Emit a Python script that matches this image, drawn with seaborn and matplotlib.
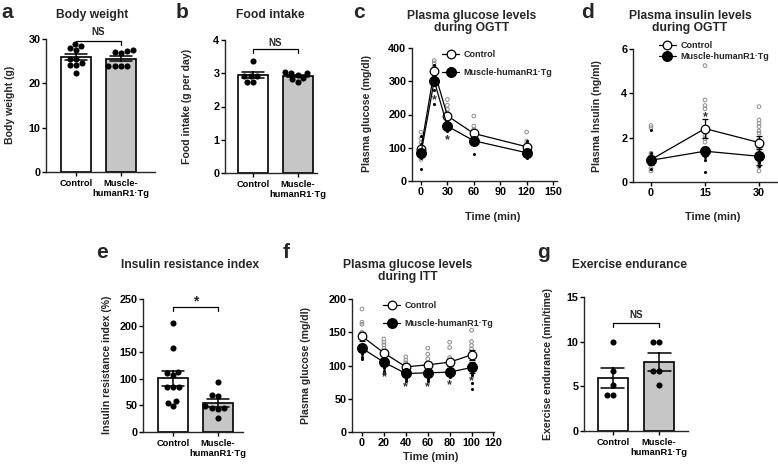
import numpy as np
import pandas as pd
import matplotlib
matplotlib.use("Agg")
import matplotlib.pyplot as plt
import seaborn as sns
from matplotlib.lines import Line2D

# ---------------- data ----------------
groups = ["Control", "Muscle-humanR1·Tg"]
bar_ticklabels = ["Control", "Muscle-\nhumanR1·Tg"]

# a: body weight (g)
bw_ctrl = [28.4, 28.9, 27.9, 27.5, 25.6, 25.6, 24.5, 24.1, 24.1, 22.3]
bw_tg = [27.5, 27.1, 27.4, 26.8, 24.0, 24.0, 24.0, 24.0]
# b: food intake (g per day)
fi_ctrl = [3.38, 2.92, 2.92, 2.92, 2.75, 2.75]
fi_tg = [3.0, 3.05, 3.0, 2.95, 2.82, 2.75, 2.85]
# e: insulin resistance index (%)
iri_ctrl = [205, 157, 113, 110, 107, 85, 85, 84, 58, 55, 48]
iri_tg = [94, 70, 68, 45, 46, 44, 26, 48]
# g: exercise endurance (min/time)
ex_ctrl = [10.0, 6.7, 5.1, 4.0, 4.0]
ex_tg = [10.0, 10.0, 6.7, 6.7, 5.1]

# c: plasma glucose during OGTT
ogtt_time = [0, 15, 30, 60, 120]
ogtt_ctrl_mean = [97, 331, 196, 143, 103]
ogtt_ctrl_sem = [8, 10, 9, 8, 6]
ogtt_tg_mean = [83, 301, 165, 121, 85]
ogtt_tg_sem = [9, 12, 10, 8, 6]
ogtt_ctrl_pts = [[147, 128, 115, 100, 90, 75, 65],
                 [362, 355, 345, 335, 320, 310],
                 [245, 228, 215, 205, 195],
                 [195, 165, 155, 145, 130],
                 [147, 120, 110, 100, 95]]
ogtt_tg_pts = [[135, 110, 95, 85, 75, 70, 37],
               [350, 320, 295, 275, 232],
               [185, 170, 160, 150],
               [130, 118, 110, 82],
               [120, 100, 90, 80, 70]]
ogtt_star_time = [15, 30]
ogtt_star_y = [249, 128]

# d: plasma insulin during OGTT
ins_time = [0, 15, 30]
ins_ctrl_mean = [1.01, 2.41, 1.78]
ins_ctrl_sem = [0.15, 0.42, 0.28]
ins_tg_mean = [0.98, 1.39, 1.16]
ins_tg_sem = [0.2, 0.2, 0.4]
ins_ctrl_pts = [[2.55, 2.45, 1.3, 1.2, 1.1, 0.9, 0.8, 0.6, 0.5],
                [5.25, 3.7, 3.45, 3.3, 2.1, 1.95, 1.8, 1.5, 1.3, 1.2],
                [3.4, 2.8, 2.65, 2.5, 2.3, 2.2, 1.9, 1.5, 1.2, 0.9, 0.7, 0.5]]
ins_tg_pts = [[2.35, 1.3, 1.0, 0.9, 0.8, 0.6],
              [1.4, 1.3, 1.15, 1.0, 0.45],
              [1.2, 1.1, 0.95, 0.85, 0.7]]
ins_star_time = [15]
ins_star_y = [3.0]

# f: plasma glucose during ITT
itt_time = [0, 20, 40, 60, 80, 100]
itt_ctrl_mean = [144, 119, 98, 101, 105, 116]
itt_ctrl_sem = [7, 5, 4, 5, 5, 7]
itt_tg_mean = [126, 105, 88, 89, 90, 97]
itt_tg_sem = [5, 5, 4, 4, 4, 8]
itt_ctrl_pts = [[185, 165, 162, 150, 146, 142],
                [140, 135, 131, 126, 120, 116],
                [113, 108, 104, 100],
                [126, 117, 110, 104],
                [135, 127, 112, 107],
                [153, 136, 130, 125]]
itt_tg_pts = [[122, 118, 113, 110],
              [100, 96, 92, 88],
              [84, 80, 76],
              [85, 80, 76],
              [82],
              [88, 85, 74, 64]]
itt_star_time = [20, 40, 60, 80, 100]
itt_star_y = [84, 69, 70, 72, 78]

# ---------------- style ----------------
W, H = 778, 472
sns.set_style("ticks")
plt.rcParams["font.family"] = ["Liberation Sans", "DejaVu Sans"]
plt.rcParams["font.weight"] = "bold"
plt.rcParams["axes.labelweight"] = "bold"
plt.rcParams["axes.linewidth"] = 1.0

fig = plt.figure(figsize=(W / 100, H / 100), dpi=100)
fig.patch.set_facecolor("white")

TICK_FS = 7.8
CAT_FS = 6.7
LEG_FS = 6.5
TITLE_FS = 8.7
LAB_FS = 7.6
LETTER_FS = 15


def axpx(l, t, r, b):
    return fig.add_axes([l / W, 1 - b / H, (r - l) / W, (b - t) / H])


def ftext(x, y, s, **kw):
    fig.text(x / W, 1 - y / H, s, **kw)


def style(ax):
    sns.despine(ax=ax)
    ax.tick_params(direction="out", length=2.6, width=1.0, pad=1.5,
                   labelsize=TICK_FS, colors="black")
    for lab in ax.get_xticklabels() + ax.get_yticklabels():
        lab.set_fontweight("bold")
    ax.set_xlabel("")
    ax.set_ylabel("")
    ax.set_facecolor("white")


def bar_panel(ax, ctrl, tg, ylim, yticks, xlim, br_low, br_high, br_text_y, br_text):
    df = pd.DataFrame({"group": [groups[0]] * len(ctrl) + [groups[1]] * len(tg),
                       "value": list(ctrl) + list(tg)})
    sns.barplot(data=df, x="group", y="value", hue="group", order=groups,
                hue_order=groups, palette=["white", "#c6c6c6"], errorbar="se",
                capsize=0.5, width=0.667, edgecolor="black", linewidth=1.2,
                err_kws={"color": "black", "linewidth": 1.1}, legend=False, ax=ax)
    sns.swarmplot(data=df, x="group", y="value", order=groups, color="black",
                  size=4.4, ax=ax, zorder=3)
    ax.set_xlim(*xlim)
    ax.set_ylim(*ylim)
    ax.set_yticks(yticks)
    ax.set_xticks([0, 1])
    ax.set_xticklabels(bar_ticklabels, fontsize=CAT_FS, fontweight="bold")
    style(ax)
    ax.tick_params(axis="x", labelsize=CAT_FS, pad=2.5)
    ax.plot([0, 0, 1, 1], [br_low, br_high, br_high, br_low], color="black",
            lw=0.9, clip_on=False)
    ax.text(0.5, br_text_y, br_text, ha="center", va="center",
            fontsize=7 if br_text == "NS" else 10, fontweight="bold")


def line_panel(ax, t, cm, cs, tm, ts, cpts, tpts, star_t, star_y, xlim, xticks,
               ylim, yticks, leg_anchor, leg_spacing):
    cx = [tt for tt, pts in zip(t, cpts) for _ in pts]
    cy = [v for pts in cpts for v in pts]
    tx = [tt for tt, pts in zip(t, tpts) for _ in pts]
    ty = [v for pts in tpts for v in pts]
    sns.scatterplot(x=cx, y=cy, marker="o", s=7, facecolor="none",
                    edgecolor="#8c8c8c", linewidth=0.7, ax=ax, zorder=1)
    sns.scatterplot(x=tx, y=ty, marker="o", s=5, color="black",
                    linewidth=0, ax=ax, zorder=1)
    ax.errorbar(t, cm, yerr=cs, fmt="none", ecolor="black", elinewidth=0.9,
                capsize=2.5, capthick=0.9, zorder=3)
    ax.errorbar(t, tm, yerr=ts, fmt="none", ecolor="black", elinewidth=0.9,
                capsize=2.5, capthick=0.9, zorder=3)
    sns.lineplot(x=t, y=cm, color="black", lw=0.9, marker="o", markersize=6.2,
                 markerfacecolor="white", markeredgecolor="black",
                 markeredgewidth=0.9, errorbar=None, ax=ax, zorder=4)
    sns.lineplot(x=t, y=tm, color="black", lw=0.9, marker="o", markersize=7,
                 markerfacecolor="black", markeredgecolor="black",
                 markeredgewidth=0.9, errorbar=None, ax=ax, zorder=5)
    for st, sy in zip(star_t, star_y):
        ax.text(st, sy, "*", ha="center", va="center_baseline", fontsize=9,
                color="#333333", zorder=6)
    ax.set_xlim(*xlim)
    ax.set_ylim(*ylim)
    ax.set_xticks(xticks)
    ax.set_yticks(yticks)
    style(ax)
    handles = [Line2D([], [], color="black", lw=0.9, marker="o", ms=6.2,
                      mfc="white", mec="black", mew=0.9),
               Line2D([], [], color="black", lw=0.9, marker="o", ms=7,
                      mfc="black", mec="black", mew=0.9)]
    leg = ax.legend(handles, groups, frameon=False, loc="upper left",
                    bbox_to_anchor=leg_anchor, fontsize=LEG_FS,
                    handlelength=1.9, handletextpad=0.5,
                    labelspacing=leg_spacing, borderaxespad=0, borderpad=0)
    for txt in leg.get_texts():
        txt.set_fontweight("bold")


# ---------------- panels ----------------
ax_a = axpx(46, 39, 155, 172)
bar_panel(ax_a, bw_ctrl, bw_tg, (0, 30), [0, 10, 20, 30], (-0.667, 1.756),
          28.7, 29.6, 31.6, "NS")

ax_b = axpx(225, 40, 317, 173)
bar_panel(ax_b, fi_ctrl, fi_tg, (0, 4), [0, 1, 2, 3, 4], (-0.622, 1.422),
          3.6, 3.73, 3.92, "NS")

ax_e = axpx(143, 299, 243, 432)
bar_panel(ax_e, iri_ctrl, iri_tg, (0, 250), [0, 50, 100, 150, 200, 250],
          (-0.667, 1.556), 227, 235, 245, "*")

ax_g = axpx(584, 297, 688, 431)
bar_panel(ax_g, ex_ctrl, ex_tg, (0, 15), [0, 5, 10, 15], (-0.63, 1.63),
          11.6, 12.1, 13.0, "NS")

ax_c = axpx(412, 48, 557, 181)
line_panel(ax_c, ogtt_time, ogtt_ctrl_mean, ogtt_ctrl_sem, ogtt_tg_mean,
           ogtt_tg_sem, ogtt_ctrl_pts, ogtt_tg_pts, ogtt_star_time, ogtt_star_y,
           (-10.2, 154.5), [0, 30, 60, 90, 120, 150], (0, 400),
           [0, 100, 200, 300, 400], (0.207, 0.985), 1.0)

ax_d = axpx(633, 49, 777, 182)
line_panel(ax_d, ins_time, ins_ctrl_mean, ins_ctrl_sem, ins_tg_mean,
           ins_tg_sem, ins_ctrl_pts, ins_tg_pts, ins_star_time, ins_star_y,
           (-5, 35), [0, 15, 30], (0, 6), [0, 2, 4, 6], (0.18, 1.06), 0.25)

ax_f = axpx(352, 299, 494, 432)
line_panel(ax_f, itt_time, itt_ctrl_mean, itt_ctrl_sem, itt_tg_mean,
           itt_tg_sem, itt_ctrl_pts, itt_tg_pts, itt_star_time, itt_star_y,
           (-9.1, 120.5), [0, 20, 40, 60, 80, 100, 120], (0, 200),
           [0, 50, 100, 150, 200], (0.218, 0.985), 1.0)

# x labels for time panels
for ax, y in [(ax_c, 217), (ax_d, 217), (ax_f, 457)]:
    pos = ax.get_position()
    ftext((pos.x0 + pos.width / 2) * W + 8, y, "Time (min)", ha="center",
          va="center", fontsize=LAB_FS + 0.3, fontweight="bold")

# y labels
ylabels = [(10, 105, "Body weight (g)"),
           (187, 106, "Food intake (g per day)"),
           (367, 114, "Plasma glucose (mg/dl)"),
           (597, 116, "Plasma Insulin (ng/ml)"),
           (107, 365, "Insulin resistance index (%)"),
           (306, 365, "Plasma glucose (mg/dl)"),
           (548, 364, "Exercise endurance (min/time)")]
for x, y, s in ylabels:
    ftext(x, y, s, rotation=90, ha="center", va="center", fontsize=LAB_FS,
          fontweight="bold")

# titles
titles = [(92, 15, "Body weight"),
          (270, 15, "Food intake"),
          (472, 22, "Plasma glucose levels\nduring OGTT"),
          (690, 22, "Plasma insulin levels\nduring OGTT"),
          (190, 265, "Insulin resistance index"),
          (408, 271, "Plasma glucose levels\nduring ITT"),
          (630, 265, "Exercise endurance")]
for x, y, s in titles:
    ftext(x, y, s, ha="center", va="center", fontsize=TITLE_FS,
          fontweight="bold", linespacing=1.05)

# panel letters
letters = [(1, 13, "a"), (176, 13, "b"), (353, 13, "c"), (581, 13, "d"),
           (96, 253, "e"), (283, 253, "f"), (537, 253, "g")]
for x, y, s in letters:
    ftext(x, y, s, ha="left", va="center", fontsize=LETTER_FS,
          fontweight="bold")

fig.savefig("out.png", dpi=100, facecolor="white")
